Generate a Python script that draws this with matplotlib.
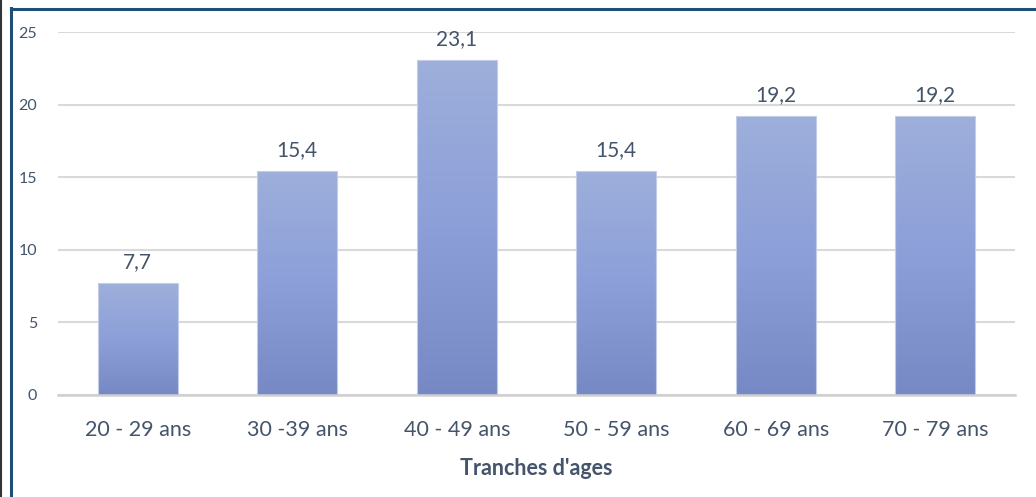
import numpy as np
import matplotlib.pyplot as plt
from matplotlib.colors import LinearSegmentedColormap
from matplotlib.lines import Line2D

categories = ['20 - 29 ans', '30 -39 ans', '40 - 49 ans', '50 - 59 ans', '60 - 69 ans', '70 - 79 ans']
values = [7.7, 15.4, 23.1, 15.4, 19.2, 19.2]
value_labels = ['7,7', '15,4', '23,1', '15,4', '19,2', '19,2']
yticks = [0, 5, 10, 15, 20, 25]

TEXT = '#44546A'
plt.rcParams['font.family'] = ['Lato', 'DejaVu Sans']

fig = plt.figure(figsize=(10.36, 4.97), dpi=100)
ax = fig.add_axes([58 / 1036, 102 / 497, 957 / 1036, 363 / 497])

x = np.arange(len(categories))
bars = ax.bar(x, values, width=0.5, color='none', edgecolor='#c4cde8', linewidth=0.8, zorder=3)

# vertical gradient inside each bar
grad = LinearSegmentedColormap.from_list('g', ['#7689c4', '#8c9fd8', '#9eafdb'])
ramp = np.linspace(0, 1, 256).reshape(-1, 1)
for b in bars:
    im = ax.imshow(ramp, cmap=grad, origin='lower', aspect='auto', zorder=2,
                   extent=[b.get_x(), b.get_x() + b.get_width(), 0, b.get_height()])
    im.set_clip_path(b)

for xi, v, lab in zip(x, values, value_labels):
    ax.text(xi, v + 0.75, lab, ha='center', va='bottom', fontsize=15, color=TEXT)

ax.set_xlim(-0.5, len(categories) - 0.5)
ax.set_ylim(0, 25)
ax.set_yticks(yticks)
ax.set_xticks(x)
ax.set_xticklabels(categories)
ax.tick_params(axis='y', length=0, pad=15, labelsize=11.5, labelcolor=TEXT)
ax.tick_params(axis='x', length=0, pad=18, labelsize=15.5, labelcolor=TEXT)
ax.yaxis.grid(True, color='#d9d9d9', linewidth=1.5, zorder=0)
ax.set_axisbelow(True)
for s in ['top', 'right', 'left']:
    ax.spines[s].set_visible(False)
ax.spines['bottom'].set_color('#d0d0d0')
ax.spines['bottom'].set_linewidth(1.8)

ax.set_xlabel("Tranches d'ages", fontsize=15.5, fontweight='bold', color=TEXT, labelpad=13)

# frame around the chart
fig.add_artist(Line2D([11 / 1036, 11 / 1036], [0, 1 - 8 / 497], transform=fig.transFigure,
                      color='#1f4e79', linewidth=2.2))
fig.add_artist(Line2D([11 / 1036, 1], [1 - 9 / 497, 1 - 9 / 497], transform=fig.transFigure,
                      color='#1f4e79', linewidth=2.2))
fig.add_artist(Line2D([1 / 1036, 1 / 1036], [0, 1], transform=fig.transFigure,
                      color='#333333', linewidth=1.5))

fig.savefig('out.png', dpi=100)
